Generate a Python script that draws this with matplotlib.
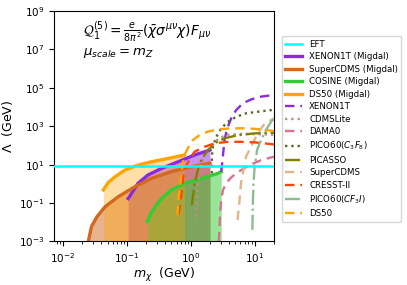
import matplotlib
matplotlib.use("Agg")
import matplotlib.pyplot as plt
from matplotlib.ticker import NullLocator

# Migdal limits (solid, filled)
xenon_mig_x = [0.105, 0.119, 0.15, 0.215, 0.35, 0.63, 1.15, 2.0]
xenon_mig_y = [0.17, 0.32, 1.07, 2.9, 6.4, 14, 32, 58]
scdms_mig_x = [0.025, 0.028, 0.034, 0.046, 0.073, 0.134, 0.24, 0.50, 1.02, 2.0]
scdms_mig_y = [0.001, 0.0059, 0.019, 0.065, 0.21, 0.71, 1.9, 4.3, 7.8, 12]
cosine_mig_x = [0.21, 0.24, 0.29, 0.37, 0.50, 0.80, 1.46, 2.65, 3.0]
cosine_mig_y = [0.011, 0.029, 0.079, 0.21, 0.48, 1.07, 1.9, 3.5, 4.3]
ds50_mig_x = [0.043, 0.051, 0.065, 0.093, 0.15, 0.24, 0.44, 0.80]
ds50_mig_y = [0.48, 1.15, 2.3, 5.2, 9.5, 14, 21, 32]

# nuclear recoil limits (dashed / dotted)
xenon_x = [3.0, 3.18, 3.37, 3.72, 4.29, 5.13, 6.5, 8.8, 12.6, 20]
xenon_y = [4.3, 26, 190, 780, 2570, 6900, 1.55e4, 2.5e4, 3.5e4, 4.3e4]
cdmslite_x = [1.22, 1.26, 1.29, 1.46, 1.85, 2.36, 2.9, 3.8, 6.1, 11, 20]
cdmslite_y = [0.019, 0.26, 1.07, 12, 58, 150, 260, 360, 400, 390, 360]
dama_x = [2.75, 2.87, 3.0, 3.2, 3.58, 4.2, 5.1, 8.3, 12.6, 20]
dama_y = [0.001, 0.023, 0.14, 0.48, 1.07, 2.0, 3.5, 9.5, 17, 26]
pico_c3f8_x = [2.14, 2.14, 2.22, 2.51, 3.0, 3.8, 5.13, 7.3, 11.1, 20]
pico_c3f8_y = [3.5, 26, 85, 280, 780, 1700, 3100, 4700, 5700, 7200]
picasso_x = [1.04, 1.15, 1.38, 1.75, 2.36, 3.37, 5.4, 9.9, 18, 20]
picasso_y = [0.08, 1.07, 12, 45, 128, 235, 340, 425, 460, 460]
scdms_x = [5.4, 5.8, 6.1, 6.7, 7.3, 9.3, 11.1, 14.2, 20]
scdms_y = [0.013, 0.14, 1.07, 5.2, 25, 128, 425, 1300, 2600]
cresst_x = [0.64, 0.70, 0.74, 0.78, 0.86, 1.0, 1.15, 1.65, 2.36, 3.8, 6.1, 9.9, 18, 20]
cresst_y = [0.025, 0.14, 1.0, 3.5, 9.5, 25, 47, 85, 128, 155, 155, 145, 118, 112]
pico_cf3i_x = [9.2, 9.4, 9.55, 9.9, 10.9, 12.6, 15, 18, 20]
pico_cf3i_y = [0.004, 0.14, 0.87, 5.2, 58, 190, 630, 1700, 2500]
ds50_x = [0.62, 0.65, 0.70, 0.74, 0.80, 0.90, 1.08, 1.38, 1.85, 2.65, 4.3, 7.8, 12.6, 18, 20]
ds50_y = [0.023, 0.21, 1.6, 9.5, 32, 71, 190, 350, 520, 690, 780, 780, 690, 590, 560]

eft_value = 8.0

fig = plt.figure(figsize=(4.07, 2.85), dpi=100)
ax = fig.add_axes([0.133, 0.153, 0.54, 0.808])

ax.axhline(eft_value, color="cyan", lw=1.8, label="EFT", zorder=5)

migdal = [
    (xenon_mig_x, xenon_mig_y, "blueviolet", "XENON1T (Migdal)", 0.5),
    (scdms_mig_x, scdms_mig_y, "chocolate", "SuperCDMS (Migdal)", 0.5),
    (cosine_mig_x, cosine_mig_y, "limegreen", "COSINE (Migdal)", 0.5),
    (ds50_mig_x, ds50_mig_y, "orange", "DS50 (Migdal)", 0.35),
]
for x, y, c, lab, a in migdal:
    ax.fill_between(x, 1e-3, y, color=c, alpha=a, lw=0)
    ax.plot(x, y, color=c, lw=2.4, label=lab)

dash = (0, (4, 2.5))
others = [
    (xenon_x, xenon_y, "blueviolet", dash, "XENON1T"),
    (cdmslite_x, cdmslite_y, "rosybrown", ":", "CDMSLite"),
    (dama_x, dama_y, "palevioletred", dash, "DAMA0"),
    (pico_c3f8_x, pico_c3f8_y, "darkolivegreen", ":", "PICO60($C_3F_8$)"),
    (picasso_x, picasso_y, "olive", "-.", "PICASSO"),
    (scdms_x, scdms_y, "burlywood", dash, "SuperCDMS"),
    (cresst_x, cresst_y, "orangered", dash, "CRESST-II"),
    (pico_cf3i_x, pico_cf3i_y, "darkseagreen", "-.", "PICO60($CF_3I$)"),
    (ds50_x, ds50_y, "orange", dash, "DS50"),
]
for x, y, c, ls, lab in others:
    ax.plot(x, y, color=c, ls=ls, lw=1.7, label=lab)

ax.set_xscale("log")
ax.set_yscale("log")
ax.set_xlim(0.0073, 20)
ax.set_ylim(1e-3, 1e9)
ax.set_yticks([1e-3, 1e-1, 1e1, 1e3, 1e5, 1e7, 1e9])
ax.yaxis.set_minor_locator(NullLocator())
ax.tick_params(labelsize=7.5)

ax.set_xlabel(r"$m_\chi$  (GeV)", fontsize=9, labelpad=1)
ax.set_ylabel(r"$\tilde{\Lambda}$  (GeV)", fontsize=9, labelpad=2)

ax.text(0.13, 0.91, r"$\mathcal{Q}_1^{(5)} = \frac{e}{8\pi^2}(\bar{\chi}\sigma^{\mu\nu}\chi)F_{\mu\nu}$",
        transform=ax.transAxes, fontsize=9.8, va="center")
ax.text(0.13, 0.82, r"$\mu_{scale} = m_Z$", transform=ax.transAxes, fontsize=9.5, va="center")

ax.legend(loc="upper left", bbox_to_anchor=(1.015, 0.91), fontsize=6.2, labelspacing=0.41)

fig.savefig("out.png", dpi=100)
